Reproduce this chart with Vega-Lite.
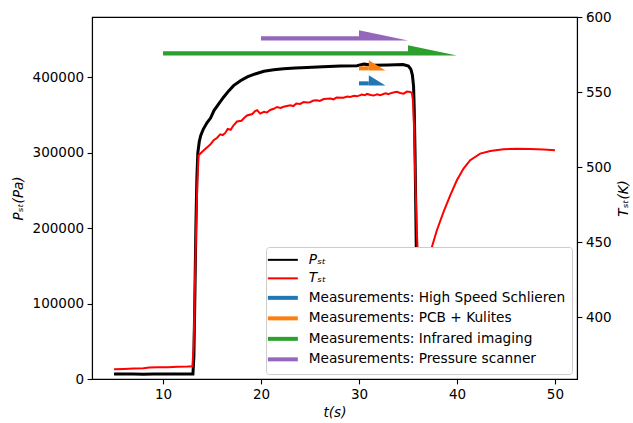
{
  "$schema": "https://vega.github.io/schema/vega-lite/v6.json",
  "width": 485,
  "height": 362,
  "autosize": {"type": "none"},
  "padding": {"left": 92, "top": 17, "right": 56, "bottom": 44},
  "background": "white",
  "config": {
    "font": "DejaVu Sans",
    "view": {"stroke": "black", "strokeWidth": 1.1},
    "axis": {
      "labelFont": "DejaVu Sans",
      "labelFontSize": 13.5,
      "labelColor": "black",
      "titleFont": "DejaVu Sans",
      "titleFontSize": 13.5,
      "titleFontWeight": "normal",
      "titleFontStyle": "italic",
      "titleColor": "black",
      "tickColor": "black",
      "tickSize": 4.9,
      "tickWidth": 1.1,
      "labelPadding": 3.5,
      "domainColor": "black",
      "domainWidth": 1.1,
      "grid": false
    }
  },
  "datasets": {
    "pressure": [
      {"t": 5, "P": 6600}, {"t": 6, "P": 6500}, {"t": 7, "P": 6700}, {"t": 8, "P": 6400},
      {"t": 9, "P": 6600}, {"t": 10, "P": 6500}, {"t": 11, "P": 6700}, {"t": 12, "P": 6500},
      {"t": 13.05, "P": 6600}, {"t": 13.15, "P": 30000}, {"t": 13.25, "P": 110000},
      {"t": 13.35, "P": 200000}, {"t": 13.45, "P": 265000}, {"t": 13.55, "P": 300000},
      {"t": 13.7, "P": 315000}, {"t": 13.85, "P": 323000}, {"t": 14.1, "P": 331000},
      {"t": 14.5, "P": 340000}, {"t": 14.85, "P": 346000}, {"t": 15.2, "P": 356000},
      {"t": 15.7, "P": 365000}, {"t": 16.2, "P": 374000}, {"t": 16.7, "P": 382000},
      {"t": 17.2, "P": 389000}, {"t": 17.9, "P": 395500}, {"t": 18.6, "P": 400500},
      {"t": 19.4, "P": 404500}, {"t": 20.3, "P": 408000}, {"t": 21.3, "P": 410000},
      {"t": 22.3, "P": 411500}, {"t": 23.5, "P": 412500}, {"t": 24.7, "P": 413000},
      {"t": 26.3, "P": 414000}, {"t": 28.1, "P": 415000}, {"t": 29.8, "P": 415500},
      {"t": 30.5, "P": 417500}, {"t": 31.5, "P": 416000}, {"t": 33.0, "P": 416500},
      {"t": 34.5, "P": 417000}, {"t": 35.05, "P": 415000}, {"t": 35.3, "P": 410500},
      {"t": 35.45, "P": 403000}, {"t": 35.57, "P": 388000}, {"t": 35.64, "P": 357000},
      {"t": 35.72, "P": 300000}, {"t": 35.8, "P": 220000}, {"t": 35.88, "P": 140000},
      {"t": 35.95, "P": 70000}, {"t": 36.05, "P": 25000}, {"t": 36.1, "P": 16000}
    ],
    "temperature": [
      {"t": 5, "T": 365.3}, {"t": 6, "T": 365.5}, {"t": 7, "T": 365.8}, {"t": 8, "T": 366.0},
      {"t": 8.6, "T": 366.5}, {"t": 9.5, "T": 366.6}, {"t": 10.5, "T": 366.7}, {"t": 11.5, "T": 366.9},
      {"t": 12.5, "T": 367.1}, {"t": 13.0, "T": 367.3}, {"t": 13.12, "T": 380}, {"t": 13.25, "T": 420},
      {"t": 13.38, "T": 460}, {"t": 13.5, "T": 490}, {"t": 13.63, "T": 508}, {"t": 13.97, "T": 510.2},
      {"t": 14.48, "T": 513.1}, {"t": 14.8, "T": 515}, {"t": 15.16, "T": 518}, {"t": 15.5, "T": 519.5},
      {"t": 15.84, "T": 522}, {"t": 16.1, "T": 521.5}, {"t": 16.35, "T": 522.9}, {"t": 16.6, "T": 525.5},
      {"t": 16.9, "T": 525}, {"t": 17.2, "T": 528}, {"t": 17.55, "T": 530.5}, {"t": 18.0, "T": 531},
      {"t": 18.3, "T": 533}, {"t": 18.57, "T": 534.5}, {"t": 19.1, "T": 535.5}, {"t": 19.4, "T": 537.5},
      {"t": 19.6, "T": 538}, {"t": 19.92, "T": 535.8}, {"t": 20.3, "T": 537}, {"t": 20.6, "T": 536.5},
      {"t": 20.94, "T": 538.2}, {"t": 21.3, "T": 539}, {"t": 21.63, "T": 540.2}, {"t": 22.0, "T": 539.5},
      {"t": 22.3, "T": 540.3}, {"t": 22.98, "T": 541.3}, {"t": 23.3, "T": 540.8}, {"t": 23.6, "T": 542.5},
      {"t": 24.0, "T": 542.2}, {"t": 24.34, "T": 543.5}, {"t": 24.7, "T": 543.2}, {"t": 25.0, "T": 543.4},
      {"t": 25.35, "T": 544.5}, {"t": 25.7, "T": 544.7}, {"t": 26.0, "T": 544.2}, {"t": 26.4, "T": 545.5},
      {"t": 27.07, "T": 545.8}, {"t": 27.4, "T": 545.3}, {"t": 27.7, "T": 546.5}, {"t": 28.42, "T": 546.4},
      {"t": 28.8, "T": 547.2}, {"t": 29.1, "T": 546.8}, {"t": 29.5, "T": 547.6}, {"t": 29.79, "T": 547.3},
      {"t": 30.3, "T": 548.5}, {"t": 30.6, "T": 548}, {"t": 30.81, "T": 548.9}, {"t": 31.2, "T": 548.2},
      {"t": 31.5, "T": 547.8}, {"t": 31.85, "T": 548.6}, {"t": 32.17, "T": 548}, {"t": 32.7, "T": 549.3},
      {"t": 33.0, "T": 548.8}, {"t": 33.19, "T": 549.3}, {"t": 33.5, "T": 549.8}, {"t": 33.87, "T": 550.3},
      {"t": 34.2, "T": 549.5}, {"t": 34.55, "T": 549.1}, {"t": 34.9, "T": 550.5}, {"t": 35.23, "T": 550.2},
      {"t": 35.4, "T": 549.5}, {"t": 35.5, "T": 545}, {"t": 35.6, "T": 530}, {"t": 35.7, "T": 505},
      {"t": 35.8, "T": 480}, {"t": 35.9, "T": 458}, {"t": 36.0, "T": 442}, {"t": 36.15, "T": 430},
      {"t": 36.4, "T": 424}, {"t": 36.7, "T": 425}, {"t": 37.0, "T": 432}, {"t": 37.44, "T": 446.9},
      {"t": 37.95, "T": 458}, {"t": 38.63, "T": 470.2}, {"t": 39.31, "T": 481.3}, {"t": 39.99, "T": 491.3},
      {"t": 40.67, "T": 499.1}, {"t": 41.35, "T": 504.7}, {"t": 42.37, "T": 509.1}, {"t": 43.39, "T": 510.9},
      {"t": 44.75, "T": 512}, {"t": 46.12, "T": 512.4}, {"t": 47.48, "T": 512.2}, {"t": 48.83, "T": 511.8},
      {"t": 50.0, "T": 511.3}
    ],
    "arrowShafts": [
      {"series": "Measurements: High Speed Schlieren", "start": 30, "headStart": 31, "base": 554.6, "shaftTop": 557.3},
      {"series": "Measurements: PCB + Kulites", "start": 30, "headStart": 31, "base": 564.6, "shaftTop": 567.3},
      {"series": "Measurements: Infrared imaging", "start": 10, "headStart": 35, "base": 574.6, "shaftTop": 577.3},
      {"series": "Measurements: Pressure scanner", "start": 20, "headStart": 30, "base": 584.6, "shaftTop": 587.3}
    ],
    "arrowHeads": [
      {"series": "Measurements: High Speed Schlieren", "t": 31, "top": 561.3, "base": 554.6},
      {"series": "Measurements: High Speed Schlieren", "t": 32.7, "top": 554.6, "base": 554.6},
      {"series": "Measurements: PCB + Kulites", "t": 31, "top": 571.3, "base": 564.6},
      {"series": "Measurements: PCB + Kulites", "t": 32.7, "top": 564.6, "base": 564.6},
      {"series": "Measurements: Infrared imaging", "t": 35, "top": 581.3, "base": 574.6},
      {"series": "Measurements: Infrared imaging", "t": 40, "top": 574.6, "base": 574.6},
      {"series": "Measurements: Pressure scanner", "t": 30, "top": 591.3, "base": 584.6},
      {"series": "Measurements: Pressure scanner", "t": 35, "top": 584.6, "base": 584.6}
    ]
  },
  "layer": [
    {
      "data": {"name": "pressure"},
      "mark": {"type": "line", "strokeWidth": 3, "clip": true},
      "encoding": {
        "x": {
          "field": "t", "type": "quantitative", "title": "t(s)",
          "scale": {"domain": [2.75, 52.25], "nice": false, "zero": false},
          "axis": {"values": [10, 20, 30, 40, 50], "titlePadding": 5}
        },
        "y": {
          "field": "P", "type": "quantitative", "title": "Pₛₜ(Pa)",
          "scale": {"domain": [0, 480000], "nice": false},
          "axis": {"orient": "left", "values": [0, 100000, 200000, 300000, 400000], "format": "d", "titlePadding": 7}
        },
        "color": {
          "datum": "Pₛₜ",
          "title": null,
          "scale": {
            "domain": ["Pₛₜ", "Tₛₜ", "Measurements: High Speed Schlieren", "Measurements: PCB + Kulites", "Measurements: Infrared imaging", "Measurements: Pressure scanner"],
            "range": ["#000000", "#ff0000", "#1f77b4", "#ff7f0e", "#2ca02c", "#9467bd"]
          },
          "legend": {
            "orient": "none",
            "legendX": 174,
            "legendY": 230,
            "title": null,
            "symbolType": "stroke",
            "symbolSize": 900,
            "symbolStrokeWidth": 3,
            "symbolOffset": 4,
            "labelOffset": 19,
            "labelLimit": 0,
            "rowPadding": 3.5,
            "padding": 6,
            "fillColor": "white",
            "strokeColor": "#cccccc",
            "cornerRadius": 3,
            "labelFont": "DejaVu Sans",
            "labelFontSize": 13.7,
            "labelColor": "black",
            "encode": {
              "symbols": {
                "update": {
                  "strokeWidth": {"signal": "datum.index < 2 ? 2 : 4"}
                }
              },
              "labels": {
                "update": {
                  "fontStyle": {"signal": "datum.index < 2 ? 'italic' : 'normal'"}
                }
              }
            }
          }
        }
      }
    },
    {
      "data": {"name": "temperature"},
      "mark": {"type": "line", "strokeWidth": 2, "clip": true},
      "encoding": {
        "x": {"field": "t", "type": "quantitative", "title": "t(s)"},
        "y": {
          "field": "T", "type": "quantitative", "title": "Tₛₜ(K)",
          "scale": {"domain": [358.8, 600.2], "nice": false, "zero": false},
          "axis": {"orient": "right", "values": [400, 450, 500, 550, 600], "titlePadding": 19, "titleAngle": 270}
        },
        "color": {"datum": "Tₛₜ", "title": null}
      }
    },
    {
      "data": {"name": "arrowShafts"},
      "mark": {"type": "rect", "opacity": 1},
      "encoding": {
        "x": {"field": "start", "type": "quantitative", "title": "t(s)"},
        "x2": {"field": "headStart"},
        "y": {
          "field": "shaftTop", "type": "quantitative", "axis": null,
          "scale": {"domain": [358.8, 600.2], "nice": false, "zero": false}
        },
        "y2": {"field": "base"},
        "color": {"field": "series", "type": "nominal", "title": null}
      }
    },
    {
      "data": {"name": "arrowHeads"},
      "mark": {"type": "area", "opacity": 1},
      "encoding": {
        "x": {"field": "t", "type": "quantitative", "title": "t(s)"},
        "y": {
          "field": "top", "type": "quantitative", "stack": null, "axis": null,
          "scale": {"domain": [358.8, 600.2], "nice": false, "zero": false}
        },
        "y2": {"field": "base"},
        "color": {"field": "series", "type": "nominal", "title": null}
      }
    }
  ],
  "resolve": {"scale": {"y": "independent"}}
}
